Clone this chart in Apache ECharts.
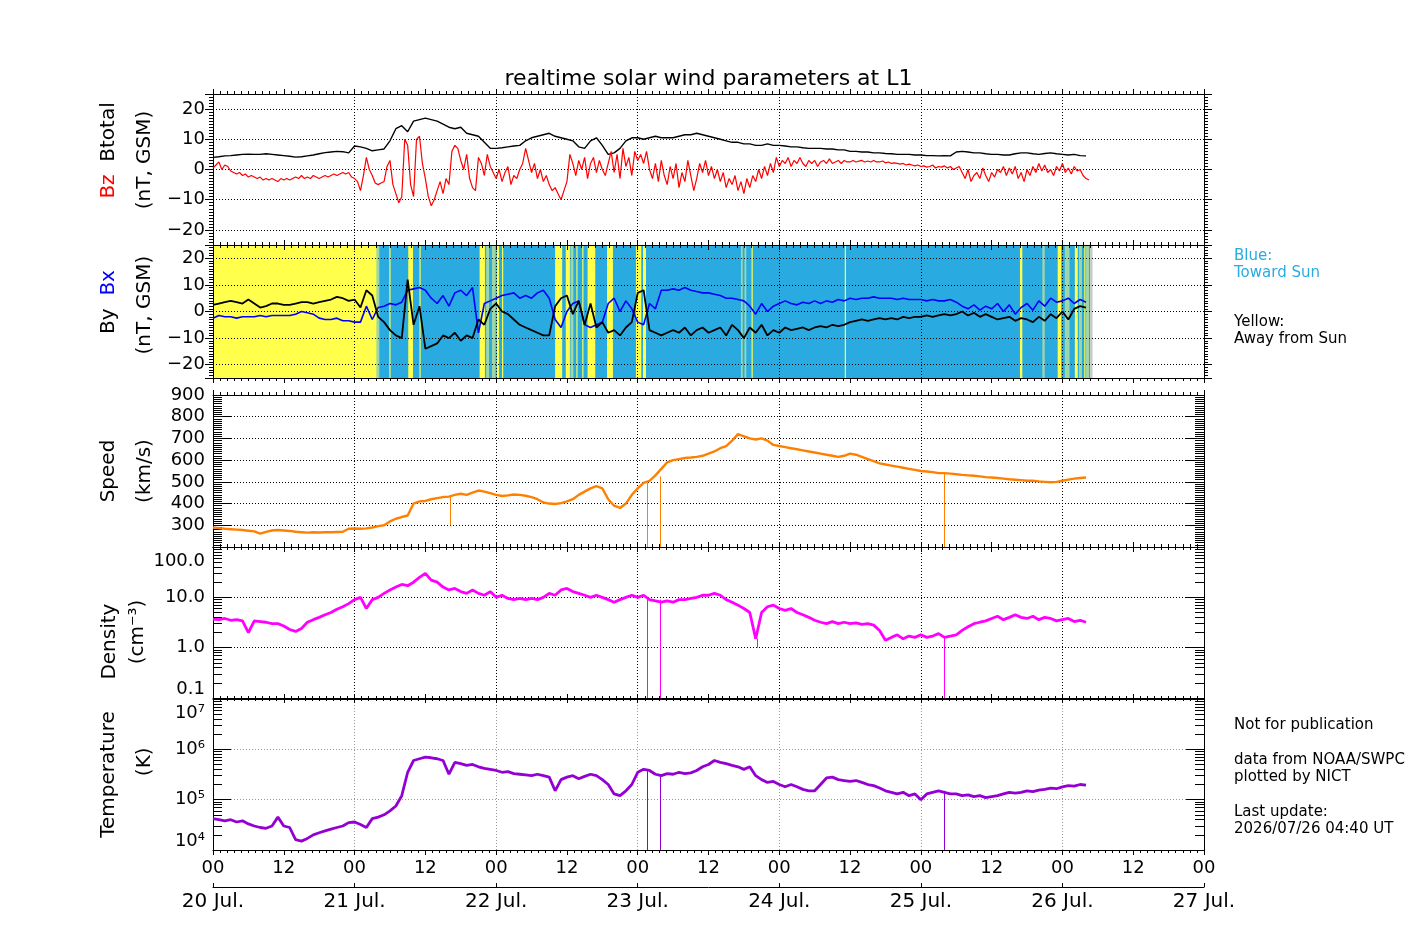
<!DOCTYPE html>
<html>
<head>
<meta charset="utf-8">
<script src="https://cdn.jsdelivr.net/npm/echarts@6/dist/echarts.min.js"></script>
<style>
html,body{margin:0;padding:0;background:#fff;}
#chart{width:1417px;height:944px;}
</style>
</head>
<body>
<div id="chart"></div>
<script>
// ---------------- data (hours since 20 Jul. 00 UT) ----------------
const dayLabels = ['20 Jul.','21 Jul.','22 Jul.','23 Jul.','24 Jul.','25 Jul.','26 Jul.','27 Jul.'];
const hourLabels = ['00','12'];
const titleText = 'realtime solar wind parameters at L1';

// Btotal [nT], hourly from 00 UT 20 Jul.
const btotal = [
 4.0,4.2,4.5,4.6,4.8,5.0,  5.1,5.0,5.0,5.2,5.0,4.8,  4.6,4.4,4.1,4.2,4.5,4.8,  5.2,5.6,5.8,6.0,5.9,5.5,
 7.8,7.5,7.0,6.2,6.5,6.8,  9.5,13.5,14.5,12.5,16.0,16.5,  17.0,16.5,16.0,15.0,14.0,13.5,  14.0,12.0,11.5,11.0,9.0,7.0,
 7.0,7.2,7.5,7.8,8.0,9.5,  10.5,11.0,11.5,12.0,11.0,10.5,  10.0,9.5,7.5,7.0,9.5,10.5,  8.0,5.0,5.5,7.0,9.5,10.5,
 10.5,10.0,10.5,11.0,10.5,10.5,  10.5,11.0,11.5,11.5,12.0,11.5,  11.0,10.5,10.0,9.5,9.0,9.0,  8.5,8.5,8.0,8.0,8.5,8.0,
 8.0,7.8,7.5,7.5,7.2,7.0,  7.0,7.0,6.8,6.8,6.5,6.5,  6.0,6.0,5.8,5.8,5.5,5.5,  5.3,5.2,5.0,5.0,5.0,4.8,
 4.8,4.6,4.6,4.5,4.6,4.5,  5.8,6.0,5.8,5.5,5.5,5.2,  5.0,5.0,4.8,4.8,5.2,5.5,  5.5,5.2,5.0,5.3,5.5,5.2,
 5.0,4.8,5.0,4.6,4.5
];
// Bz GSM [nT], every 30 min
const bz = [
 0.5,1.5,2.5,0.0,1.5,1.0,-0.5,-1.0,-1.5,-1.0,-2.0,-1.5,
 -2.5,-2.0,-2.5,-3.0,-2.5,-3.5,-3.0,-3.5,-3.0,-3.5,-4.0,-3.0,
 -3.5,-3.0,-3.5,-3.0,-2.5,-3.0,-2.0,-3.0,-2.5,-3.0,-2.0,-2.5,
 -3.0,-2.5,-2.0,-2.5,-2.0,-1.5,-2.0,-1.5,-1.0,-1.5,-1.0,-2.5,
 -3.0,-4.0,-7.0,-2.0,4.0,0.0,-2.0,-4.5,-5.0,-4.5,-4.0,1.0,
 3.0,-5.0,-8.0,-11.0,-9.0,10.0,8.0,-5.0,-9.0,10.0,11.0,2.0,
 -3.0,-9.0,-12.0,-10.0,-7.0,-4.0,-8.0,-3.0,-5.0,6.0,8.0,7.0,
 3.0,0.0,5.0,-3.0,-6.0,-7.0,4.0,2.0,-2.0,5.0,1.0,-1.0,
 -3.0,0.0,-4.0,-1.0,1.0,-5.0,-2.0,-3.0,0.0,2.0,7.0,3.0,
 -1.0,2.0,-3.0,0.0,-4.0,-2.0,-5.0,-7.0,-6.0,-8.0,-10.0,-7.0,
 -4.0,5.0,2.0,-2.0,3.0,0.0,4.0,-3.0,2.0,4.0,-1.0,3.0,
 0.0,-2.0,2.0,6.0,-1.0,5.0,-3.0,7.0,1.0,4.0,-2.0,6.0,
 3.0,5.0,2.0,6.0,0.0,-3.0,2.0,-4.0,3.0,-2.0,-5.0,1.0,
 -3.0,2.0,-6.0,-1.0,-4.0,3.0,-2.0,-7.0,-3.0,2.0,-1.0,3.0,
 -2.0,1.0,-3.0,0.0,-4.0,-1.0,-6.0,-3.0,-5.0,-2.0,-7.0,-4.0,
 -8.0,-3.0,-6.0,-2.0,-4.0,0.0,-3.0,1.0,-2.0,2.0,-1.0,4.0,
 1.0,3.0,2.0,4.0,1.0,3.0,2.0,4.0,2.0,1.0,3.0,2.0,
 3.0,1.0,2.5,3.0,2.0,3.5,2.0,2.5,3.0,2.0,3.0,2.5,
 2.5,3.0,2.5,2.8,3.0,2.5,2.8,2.5,3.0,2.5,2.5,2.8,
 2.2,2.5,2.0,2.2,2.0,1.8,2.0,1.5,1.8,1.5,1.2,1.5,
 1.0,1.2,0.8,1.0,1.5,0.5,1.0,0.8,1.2,0.5,1.0,0.0,
 0.5,1.0,-1.0,-3.0,0.0,-4.0,-2.0,-1.0,-3.0,0.5,-2.0,-4.0,
 -1.0,-2.5,0.0,-1.0,1.0,-2.0,0.5,-1.5,1.0,-3.0,-1.0,-4.0,
 0.0,-2.0,1.0,-1.0,2.0,-0.5,1.5,-1.0,0.0,-2.0,1.0,-0.5,
 2.0,-1.0,0.5,-1.5,1.0,-0.5,0.0,-2.0,-3.0,-3.5
];
// Bx GSM [nT], hourly
const bx = [
 -2.5,-1.5,-2.0,-2.0,-2.5,-2.0,  -2.0,-2.0,-1.5,-2.0,-1.5,-1.5,  -1.5,-1.5,-1.0,0.0,-0.5,-1.0,  -2.5,-3.0,-3.0,-2.5,-3.5,-3.5,
 -4.0,-4.0,2.0,-3.0,1.5,2.0,  3.0,2.5,3.5,8.0,8.5,9.0,  8.0,5.0,3.0,6.0,2.0,7.0,  8.0,6.0,9.0,-8.0,3.0,4.0,
 5.0,6.0,6.5,7.0,5.0,6.0,  5.0,7.0,8.0,5.0,-3.0,-6.0,  0.0,3.0,4.0,-5.0,-6.0,-5.0,  -4.0,3.0,5.0,0.0,4.0,1.0,
 -4.0,-5.0,3.0,1.0,8.0,8.0,  8.5,8.0,9.0,8.0,7.5,7.0,  7.0,6.5,6.0,5.0,5.0,4.5,  4.0,2.0,-1.0,3.0,0.0,2.0,
 3.0,4.0,3.0,2.5,3.5,3.0,  4.0,3.0,4.0,3.5,4.5,4.0,  5.0,4.5,5.0,5.0,5.5,5.0,  5.0,5.0,4.5,5.0,4.5,4.5,
 4.5,4.0,4.5,4.0,4.0,4.5,  3.5,2.0,1.0,2.5,0.5,2.0,  1.0,3.0,0.0,2.5,-1.0,1.5,  3.0,0.5,4.0,2.0,5.0,3.5,
 4.0,5.0,3.0,4.5,3.5
];
// By GSM [nT], hourly
const by = [
 2.5,3.0,3.5,4.0,3.5,3.0,  4.5,3.0,1.5,2.0,3.0,3.0,  2.5,2.5,3.0,3.5,3.5,3.0,  3.5,4.0,4.5,5.5,5.0,4.0,
 4.5,1.5,8.0,6.0,-2.0,-4.0,  -7.0,-9.0,-10.0,12.0,-5.0,2.0,  -14.0,-13.0,-12.0,-9.0,-10.0,-8.0,  -11.0,-9.0,-10.0,-3.0,-5.0,1.0,
 3.0,0.0,-1.0,-3.0,-5.0,-6.0,  -7.0,-8.0,-9.0,-9.0,2.0,5.0,  6.0,-1.0,4.0,-5.0,3.0,-6.0,  -4.0,-8.0,-7.0,-9.0,-6.0,-4.0,
 7.0,8.0,-7.0,-8.0,-9.0,-8.0,  -7.0,-8.0,-6.0,-9.0,-7.0,-6.0,  -8.0,-7.0,-6.0,-9.0,-5.0,-7.0,  -10.0,-6.0,-8.0,-5.0,-9.0,-7.0,
 -8.0,-6.0,-7.0,-6.5,-6.0,-7.0,  -6.0,-5.5,-6.0,-5.0,-5.5,-5.0,  -4.0,-3.5,-3.0,-3.5,-3.0,-2.5,  -3.0,-2.5,-3.0,-2.0,-2.5,-2.0,
 -2.0,-1.5,-2.0,-1.5,-1.0,-1.5,  -1.0,0.0,-1.5,-0.5,-2.0,-1.0,  -2.0,-3.0,-2.5,-2.0,-3.5,-2.5,  -3.0,-4.0,-2.0,-3.5,-1.0,-2.5,
 0.0,-3.0,1.0,2.0,1.5
];
// IMF sector (hours): yellow = away from Sun, blue = toward Sun
const towardSpan = [[27.7, 148.7]];
const mixedIntervals = [[27.4,28.2],[46.3,46.8],[47.3,47.9],[60.6,61.1],[89.5,89.8],[90.1,90.4],[140.6,141.0],[144.4,145.2],[146.8,147.3],[148.0,148.5]];
const awayIntervals = [[0,27.7],[29.9,30.1],[33.1,33.9],[35.0,35.2],[45.2,46.1],[48.1,48.5],[49.0,49.2],[58.0,59.2],[59.8,60.5],
 [61.6,61.8],[62.6,62.8],[63.5,64.8],[66.8,67.8],[71.7,72.6],[72.9,73.4],[91.3,91.5],[107.1,107.3],[136.8,137.2],
 [143.2,143.8],[146.1,146.6],[147.7,147.9]];
const noDataEdge = [[148.7, 149.1]];

// Speed [km/s], hourly
const speed = [
 290,287,284,282,280,278,  275,272,262,270,276,278,  276,274,270,268,266,268,  267,268,268,269,270,284,
 285,284,286,290,296,300,  318,330,338,345,400,410,  412,420,425,430,432,440,  445,440,450,460,455,448,
 440,435,438,442,440,436,  430,420,405,400,398,402,  410,420,440,455,470,480,  470,420,390,380,400,440,
 470,495,505,530,560,590,  600,605,610,612,615,620,  630,640,655,665,690,720,  710,700,695,700,690,670,
 665,660,655,650,645,640,  635,630,625,620,615,620,  630,625,615,605,595,585,  580,575,570,565,560,555,
 550,548,545,540,540,538,  535,532,530,528,525,522,  520,518,515,512,510,508,  505,505,502,500,498,500,
 505,510,515,518,520
];
// Proton density [cm^-3], hourly
const density = [
 3.7,3.6,3.8,3.5,3.6,3.4,  2.0,3.4,3.3,3.2,3.0,3.0,  2.7,2.3,2.1,2.4,3.2,3.6,  4.0,4.5,5.0,5.8,6.5,7.5,
 9.0,10.0,6.0,9.0,10.0,12.0,  14.0,16.0,18.0,17.0,20.0,25.0,  30.0,22.0,20.0,16.0,14.0,15.0,  13.0,12.0,14.0,12.0,11.0,13.0,
 10.0,11.0,9.5,9.0,9.5,9.0,  9.5,9.0,10.0,12.0,11.0,14.0,  15.0,13.0,12.0,11.0,10.0,11.0,  10.0,9.0,8.0,9.0,10.0,11.0,
 10.0,11.0,9.0,8.5,8.0,8.5,  8.0,9.0,9.0,9.5,10.0,11.0,  11.0,12.0,11.0,9.0,8.0,7.0,  6.0,5.0,1.5,5.0,6.5,7.0,
 6.0,5.5,6.0,5.0,4.5,4.0,  3.5,3.2,3.0,3.3,3.0,3.2,  3.0,3.1,2.9,3.0,2.8,2.2,  1.4,1.6,1.8,1.5,1.7,1.6,
 1.8,1.6,1.7,1.9,1.6,1.7,  1.8,2.2,2.6,3.0,3.2,3.4,  3.8,4.2,3.6,4.0,4.5,4.0,  3.8,4.2,3.6,4.0,3.8,3.4,
 3.6,3.8,3.3,3.5,3.2
];
// Temperature [K], hourly
const temperature = [
 42000,40000,38000,40000,36000,38000,  33000,30000,28000,27000,30000,45000,  30000,28000,16000,15000,17000,20000,  22000,24000,26000,28000,30000,35000,
 36000,32000,28000,42000,45000,50000,  60000,75000,120000,350000,600000,650000,  700000,680000,650000,600000,320000,550000,  520000,480000,500000,450000,420000,400000,
 380000,350000,360000,330000,320000,310000,  300000,320000,300000,280000,150000,250000,  280000,300000,260000,290000,320000,300000,  250000,200000,130000,120000,150000,200000,
 350000,400000,380000,320000,300000,330000,  320000,350000,330000,340000,380000,450000,  500000,600000,550000,520000,480000,450000,  400000,450000,300000,250000,220000,230000,
 200000,180000,200000,180000,160000,150000,  150000,200000,270000,280000,250000,240000,  230000,240000,220000,200000,190000,170000,  150000,140000,130000,140000,120000,130000,
 100000,130000,140000,150000,140000,130000,  130000,120000,125000,115000,120000,110000,  115000,120000,130000,140000,135000,140000,  150000,145000,155000,160000,170000,165000,
 180000,190000,185000,200000,195000
];
// data drop-outs: [hour, value before drop, value reached]
const speedDrops = [[40.2,435,300],[73.7,495,200],[75.8,525,200],[123.9,545,200]];
const densityDrops = [[73.7,10,0.1],[75.8,9,0.1],[92.3,1.5,1.0],[123.9,1.7,0.1]];
const tempDrops = [[73.7,380000,10000],[75.8,320000,10000],[123.9,150000,10000]];

// ---------------- chart ----------------
const FONT = 'DejaVu Sans';
const SUP = {4:'\u2074',5:'\u2075',6:'\u2076',7:'\u2077'};
const XMAX = 168;
const PANELS = [
  {top:94, height:151, type:'value', min:-25, max:25, tickIn:false, gridColor:'#000',
   fmt: v => Math.abs(v) >= 25 ? '' : (v < 0 ? '\u2212' + Math.abs(v) : String(v)),
   name:'      {r|Bz}  Btotal\n   (nT, GSM)', nameGap:50, lh:36},
  {top:245, height:133, type:'value', min:-25, max:25, tickIn:false, gridColor:'#000',
   fmt: v => Math.abs(v) >= 25 ? '' : (v < 0 ? '\u2212' + Math.abs(v) : String(v)),
   name:'   By  {b|Bx}\n  (nT, GSM)', nameGap:50, lh:36},
  {top:395, height:152, type:'value', min:200, max:900, interval:100, tickIn:true, gridColor:'#000',
   fmt: v => v <= 200 ? '' : String(v), name:'Speed\n(km/s)', nameGap:50, lh:36},
  {top:547, height:151, type:'log', min:0.1, max:100, tickIn:true, gridColor:'#000',
   fmt: v => v.toFixed(1), name:'Density      \n(cm\u207B\u00B3)   ', nameGap:61, lh:28},
  {top:699, height:151, type:'log', min:1e4, max:1e7, tickIn:true, gridColor:'#999',
   fmt: v => '10' + SUP[Math.round(Math.log10(v))], name:'Temperature\n    (K)', nameGap:50, lh:36}
];

const grid = PANELS.map(p => ({left:213, right:213, top:p.top, height:p.height, containLabel:false, outerBoundsMode:'none', show:false}));
grid.push({left:213, right:213, top:886, height:1, containLabel:false, outerBoundsMode:'none', show:false});

const black = {color:'#000', width:1};
const xAxis = [];
PANELS.forEach((p, g) => {
  xAxis.push({gridIndex:g, type:'value', min:0, max:XMAX, interval:12, position:'bottom', z:3,
    axisLine:{show:true, onZero:false, lineStyle:black},
    axisTick:{show:true, inside:false, length:5, lineStyle:black},
    minorTick:{show:true, splitNumber:10, length:3, lineStyle:black},
    axisLabel:{show:g === 4, margin:9, color:'#000', fontSize:18, fontFamily:FONT,
      formatter: v => hourLabels[(v % 24 === 0) ? 0 : 1]},
    splitLine:{show:false}});
  xAxis.push({gridIndex:g, type:'value', min:0, max:XMAX, interval:12, position:'top', z:3,
    axisLine:{show:true, onZero:false, lineStyle:black},
    axisTick:{show:true, inside:false, length:5, lineStyle:black},
    minorTick:{show:true, splitNumber:10, length:3, lineStyle:black},
    axisLabel:{show:false}, splitLine:{show:false}});
  xAxis.push({gridIndex:g, type:'value', min:0, max:XMAX, interval:24, position:'bottom', z:3,
    axisLine:{show:false, onZero:false}, axisTick:{show:false}, axisLabel:{show:false},
    splitLine:{show:true, lineStyle:{color:p.gridColor, width:1, type:[1,2]}}});
});
xAxis.push({gridIndex:5, type:'value', min:0, max:XMAX, interval:24, position:'bottom',
  axisLine:{show:true, onZero:false, lineStyle:black},
  axisTick:{show:true, inside:true, length:4, lineStyle:black},
  axisLabel:{show:true, margin:5, color:'#000', fontSize:20, fontFamily:FONT,
    formatter: v => dayLabels[Math.round(v / 24)]},
  splitLine:{show:false}});

const yAxis = [];
const leftIdx = [];
PANELS.forEach((p, g) => {
  const base = {gridIndex:g, type:p.type, min:p.min, max:p.max, z:3};
  if (p.interval) base.interval = p.interval;
  if (p.type === 'value' && !p.interval) base.splitNumber = 5;
  if (p.type === 'log') base.logBase = 10;
  const majLen = p.tickIn ? 18 : 8;
  const minLen = p.tickIn ? 9 : 4;
  const minor = p.type === 'log' ? {show:false} :
    {show:true, splitNumber:10, length:minLen, lineStyle:black};
  const rich = {
    r:{color:'#ff0000', fontSize:20, fontFamily:FONT, lineHeight:p.lh},
    b:{color:'#0000ff', fontSize:20, fontFamily:FONT, lineHeight:p.lh}
  };
  leftIdx.push(yAxis.length);
  yAxis.push(Object.assign({}, base, {position:'left',
    axisLine:{show:true, onZero:false, lineStyle:black},
    axisTick:{show:true, inside:p.tickIn, length:majLen, lineStyle:black},
    minorTick:minor,
    axisLabel:{show:true, margin:8, padding:[5,0,0,0], color:'#000', fontSize:18, fontFamily:FONT, formatter:p.fmt,
      verticalAlignMaxLabel: p.type === 'log' ? 'top' : undefined,
      verticalAlignMinLabel: p.type === 'log' ? 'bottom' : undefined},
    splitLine:{show:true, lineStyle:{color:p.gridColor, width:1, type:[1,2]}},
    name:p.name, nameLocation:'middle', nameRotate:90, nameGap:p.nameGap, nameMoveOverlap:false,
    nameTextStyle:{color:'#000', fontSize:20, fontFamily:FONT, lineHeight:p.lh, rich:rich}}));
  yAxis.push(Object.assign({}, base, {position:'right',
    axisLine:{show:true, onZero:false, lineStyle:black},
    axisTick:{show:true, inside:p.tickIn, length:majLen, lineStyle:black},
    minorTick:minor, axisLabel:{show:false}, splitLine:{show:false}}));
});
yAxis.push({gridIndex:5, type:'value', show:false, min:0, max:1});
// log minor ticks (2..9 of each decade)
[3, 4].forEach(g => {
  const p = PANELS[g];
  const vals = [];
  for (let e = Math.round(Math.log10(p.min)); e < Math.round(Math.log10(p.max)); e++) {
    for (let k = 2; k <= 9; k++) vals.push(k * Math.pow(10, e));
  }
  ['left', 'right'].forEach(pos => {
    yAxis.push({gridIndex:g, type:'log', logBase:10, min:p.min, max:p.max, position:pos, z:3,
      axisLine:{show:false, onZero:false},
      axisTick:{show:true, inside:true, length:9, lineStyle:black, customValues:vals},
      axisLabel:{show:false}, splitLine:{show:false}});
  });
});

function line(g, data, color, width, z, drops) {
  const s = {type:'line', xAxisIndex:3 * g, yAxisIndex:leftIdx[g], data:data, showSymbol:false, symbol:'none',
    lineStyle:{color:color, width:width}, itemStyle:{color:color}, clip:true, animation:false, silent:true, z:z};
  if (drops) {
    s.markLine = {silent:true, symbol:['none','none'], animation:false, label:{show:false},
      lineStyle:{color:color, width:1, type:'solid'},
      emphasis:{disabled:true},
      data: drops.map(d => [{coord:[d[0], d[1]]}, {coord:[d[0], d[2]]}])};
  }
  return s;
}
const hourly = arr => arr.map((v, i) => [i, v]);
const halfHourly = arr => arr.map((v, i) => [i * 0.5, v]);

const BAND_COLORS = ['#29abe2', '#9fd6a8', '#ffff4c', '#c8c8c8'];
const bandData = []
  .concat(towardSpan.map(d => [d[0], d[1], 0]))
  .concat(mixedIntervals.map(d => [d[0], d[1], 1]))
  .concat(awayIntervals.map(d => [d[0], d[1], 2]))
  .concat(noDataEdge.map(d => [d[0], d[1], 3]));

const series = [
  {type:'custom', xAxisIndex:3, yAxisIndex:leftIdx[1], z:1, silent:true, animation:false,
   encode:{x:[0,1]}, data:bandData,
   renderItem:(params, api) => {
     const a = api.coord([api.value(0), PANELS[1].max]);
     const b = api.coord([api.value(1), PANELS[1].min]);
     return {type:'rect', shape:{x:a[0], y:a[1], width:Math.max(b[0] - a[0], 1), height:b[1] - a[1]},
       style:{fill:BAND_COLORS[api.value(2)]}};
   }},
  line(0, hourly(btotal), '#000000', 1.4, 4),
  line(0, halfHourly(bz), '#ff0000', 1.2, 5),
  line(1, hourly(bx), '#0000ff', 1.6, 4),
  line(1, hourly(by), '#000000', 1.8, 5),
  line(2, hourly(speed), '#ff8000', 2.4, 4, speedDrops),
  line(3, hourly(density), '#ff00ff', 2.8, 4, densityDrops),
  line(4, hourly(temperature), '#9400d3', 2.8, 4, tempDrops)
];

const txt = (x, y, text, fill) => ({type:'text', left:x, top:y, silent:true,
  style:{text:text, fill:fill, font:'15px "DejaVu Sans"', lineHeight:17}});

const option = {
  animation:false,
  backgroundColor:'#ffffff',
  title:{text:titleText, left:'center', top:68, padding:0,
    textStyle:{fontSize:22, fontWeight:'normal', color:'#000', fontFamily:FONT}},
  grid:grid, xAxis:xAxis, yAxis:yAxis, series:series,
  graphic:[
    txt(1234, 248, 'Blue:\nToward Sun', '#29abe2'),
    txt(1234, 314, 'Yellow:\nAway from Sun', '#000'),
    txt(1234, 717, 'Not for publication', '#000'),
    txt(1234, 752, 'data from NOAA/SWPC\nplotted by NICT', '#000'),
    txt(1234, 804, 'Last update:\n2026/07/26 04:40 UT', '#000')
  ]
};
const chart = echarts.init(document.getElementById('chart'), null, {renderer:'canvas', width:1417, height:944});
chart.setOption(option);
</script>
</body>
</html>
